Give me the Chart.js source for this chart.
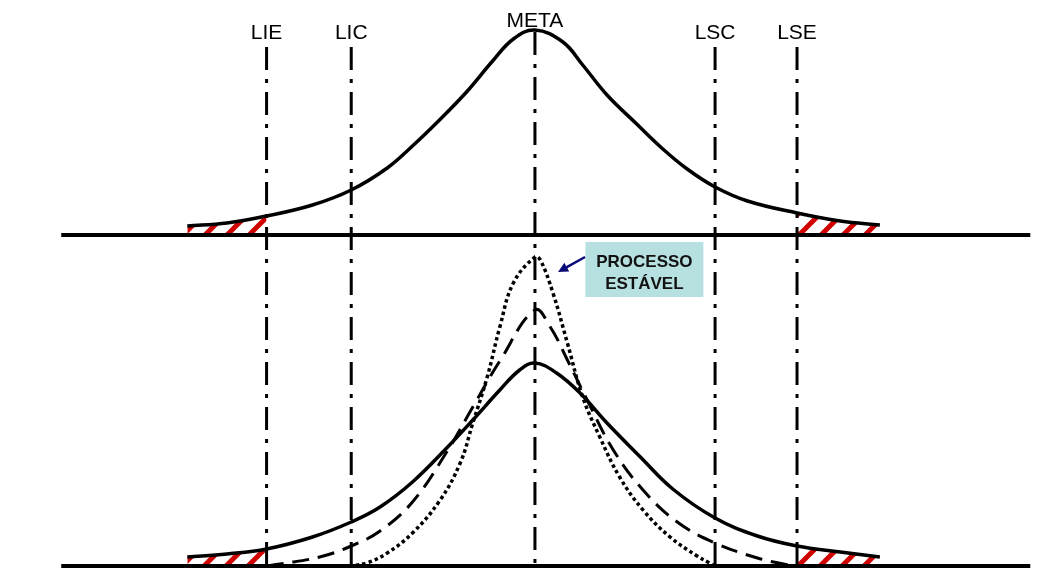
<!DOCTYPE html>
<html lang="pt-BR">
<head>
<meta charset="utf-8">
<title>Limites de controle e especificação</title>
<script src="https://cdn.jsdelivr.net/npm/chart.js@4.4.1/dist/chart.umd.min.js"></script>
<style>
    html, body { margin: 0; padding: 0; background: #fff; }
    #grafico { display: block; }
</style>
</head>
<body>
<canvas id="grafico" width="1051" height="576"></canvas>
<script>

// limites (em desvios a partir da meta)
var limites = ['LIE', 'LIC', 'META', 'LSC', 'LSE'];
var posLimites = [-2.98, -2.04, 0, 2.0, 2.91];

// curva do painel de cima
var xCurvaSup = [-3.86, -3.42, -2.98, -2.47, -2.04, -1.64, -1.36, -1.06, -0.76, -0.47, -0.24, 0, 0.31, 0.53, 0.80, 1.13, 1.42, 1.69, 2.00, 2.36, 2.91, 3.39, 3.83];
var yCurvaSup = [9, 12, 19, 30, 45, 67, 89, 115, 143, 174, 196, 205, 193, 170, 140, 111, 86, 66, 48, 34, 22, 14, 10];

// painel de baixo: curva larga (continua)
var xCurvaLarga = [-3.86, -3.42, -2.98, -2.47, -2.04, -1.72, -1.36, -0.98, -0.69, -0.39, -0.17, 0, 0.24, 0.50, 0.80, 1.17, 1.53, 2.00, 2.47, 2.91, 3.39, 3.83];
var yCurvaLarga = [9, 12, 17, 29, 44, 59, 84, 118, 146, 176, 196, 203, 193, 173, 143, 109, 77, 48, 30, 20, 14, 9];

// curva tracejada
var xCurvaMedia = [-2.98, -2.83, -2.39, -2.04, -1.72, -1.36, -0.98, -0.69, -0.39, 0, 0.17, 0.36, 0.58, 0.87, 1.20, 1.58, 2.00, 2.47, 2.76, 2.91];
var yCurvaMedia = [0, 2, 9, 20, 35, 64, 114, 159, 205, 256, 239, 206, 166, 116, 76, 44, 23, 8, 2, 0];

// curva pontilhada (processo estavel)
var xCurvaEstavel = [-2.06, -1.87, -1.64, -1.36, -1.06, -0.83, -0.69, -0.53, -0.39, -0.24, 0, 0.06, 0.20, 0.36, 0.53, 0.72, 0.94, 1.20, 1.50, 1.80, 1.94, 2.00];
var yCurvaEstavel = [0, 3, 13, 33, 65, 103, 143, 189, 239, 283, 309, 306, 273, 223, 169, 129, 89, 56, 29, 10, 3, 0];

// base de cada painel e extremos das linhas (unidades do eixo y)
var baseSup = 341;
var baseInf = 10;
var topoLinhas = 529;
var topoMeta = 544;
var alturaTextoLimite = 537;
var alturaTextoMeta = 549;
var eixoXMin = -5.94, eixoXMax = 5.73;
var linhaBaseIni = -5.26, linhaBaseFim = 5.5;

function montarPontos(xs, ys, base) {
    var pts = [];
    for (var i = 0; i < xs.length; i++) {
        pts.push({ x: xs[i], y: ys[i] + base });
    }
    return pts;
}

// so a parte da cauda que fica fora dos limites de especificacao
function montarCauda(xs, ys, base, lado) {
    var pts = [];
    for (var i = 0; i < xs.length; i++) {
        if ((lado < 0 && xs[i] <= posLimites[0]) || (lado > 0 && xs[i] >= posLimites[4])) {
            pts.push({ x: xs[i], y: ys[i] + base });
        }
    }
    return pts;
}

function padraoHachura() {
    var c = document.createElement('canvas');
    c.width = 22; c.height = 22;
    var p = c.getContext('2d');
    p.strokeStyle = '#d00000';
    p.lineWidth = 5;
    p.beginPath();
    p.moveTo(-4, 26); p.lineTo(26, -4);
    p.moveTo(-15, 15); p.lineTo(15, -15);
    p.moveTo(7, 37); p.lineTo(37, 7);
    p.stroke();
    return p.createPattern(c, 'repeat');
}

var hachura = padraoHachura();
var datasets = [];

// caudas hachuradas
[[xCurvaSup, yCurvaSup, baseSup], [xCurvaLarga, yCurvaLarga, baseInf]].forEach(function (c) {
    [-1, 1].forEach(function (lado) {
        datasets.push({
            data: montarCauda(c[0], c[1], c[2], lado),
            borderWidth: 0,
            backgroundColor: hachura,
            fill: { value: c[2] },
            pointRadius: 0,
            tension: 0.4,
            order: 10
        });
    });
});

// linhas de base
[baseSup, baseInf].forEach(function (b) {
    datasets.push({
        data: [{ x: linhaBaseIni, y: b }, { x: linhaBaseFim, y: b }],
        borderColor: '#000',
        borderWidth: 4,
        pointRadius: 0,
        order: 2
    });
});

// linhas verticais traco-ponto
for (var i = 0; i < limites.length; i++) {
    datasets.push({
        data: [{ x: posLimites[i], y: limites[i] == 'META' ? topoMeta : topoLinhas }, { x: posLimites[i], y: baseInf }],
        borderColor: '#000',
        borderWidth: 3,
        borderDash: [23, 9, 4, 9],
        pointRadius: 0,
        order: 3
    });
}

// curvas
var curvas = [
    { xs: xCurvaSup, ys: yCurvaSup, base: baseSup, dash: [], largura: 3.5 },
    { xs: xCurvaLarga, ys: yCurvaLarga, base: baseInf, dash: [], largura: 3.5 },
    { xs: xCurvaMedia, ys: yCurvaMedia, base: baseInf, dash: [17, 9], largura: 3 },
    { xs: xCurvaEstavel, ys: yCurvaEstavel, base: baseInf, dash: [3.5, 3], largura: 3.5 }
];
curvas.forEach(function (c) {
    datasets.push({
        data: montarPontos(c.xs, c.ys, c.base),
        borderColor: '#000',
        borderWidth: c.largura,
        borderDash: c.dash,
        pointRadius: 0,
        fill: false,
        tension: 0.4,
        order: 1
    });
});

// caixa "processo estavel" com seta
var caixa = { x1: 0.56, x2: 1.87, yTopo: 334, yBase: 279, cor: '#b7e0e0' };
var seta = { x1: 0.556, y1: 319, x2: 0.256, y2: 304, cor: '#0a0a78' };

var pluginTextos = {
    id: 'textos',
    afterDatasetsDraw: function (chart) {
        var ctx = chart.ctx;
        var sx = chart.scales.x, sy = chart.scales.y;
        ctx.save();
        ctx.fillStyle = '#000';
        ctx.font = '21px "Liberation Sans", Arial, sans-serif';
        ctx.textAlign = 'center';
        ctx.textBaseline = 'alphabetic';
        for (var i = 0; i < limites.length; i++) {
            var yt = limites[i] == 'META' ? alturaTextoMeta : alturaTextoLimite;
            ctx.fillText(limites[i], sx.getPixelForValue(posLimites[i]), sy.getPixelForValue(yt));
        }

        var bx1 = sx.getPixelForValue(caixa.x1), bx2 = sx.getPixelForValue(caixa.x2);
        var by1 = sy.getPixelForValue(caixa.yTopo), by2 = sy.getPixelForValue(caixa.yBase);
        ctx.fillStyle = caixa.cor;
        ctx.fillRect(bx1, by1, bx2 - bx1, by2 - by1);
        ctx.fillStyle = '#111';
        ctx.font = 'bold 17px "Liberation Sans", Arial, sans-serif';
        var cx = (bx1 + bx2) / 2;
        ctx.fillText('PROCESSO', cx, sy.getPixelForValue(309));
        ctx.fillText('ESTÁVEL', cx, sy.getPixelForValue(287));

        var ax1 = sx.getPixelForValue(seta.x1), ay1 = sy.getPixelForValue(seta.y1);
        var ax2 = sx.getPixelForValue(seta.x2), ay2 = sy.getPixelForValue(seta.y2);
        var ang = Math.atan2(ay2 - ay1, ax2 - ax1);
        ctx.strokeStyle = seta.cor;
        ctx.fillStyle = seta.cor;
        ctx.lineWidth = 2.5;
        ctx.beginPath();
        ctx.moveTo(ax1, ay1);
        ctx.lineTo(ax2 - 6 * Math.cos(ang), ay2 - 6 * Math.sin(ang));
        ctx.stroke();
        ctx.beginPath();
        ctx.moveTo(ax2, ay2);
        ctx.lineTo(ax2 - 10 * Math.cos(ang) + 5 * Math.sin(ang), ay2 - 10 * Math.sin(ang) - 5 * Math.cos(ang));
        ctx.lineTo(ax2 - 10 * Math.cos(ang) - 5 * Math.sin(ang), ay2 - 10 * Math.sin(ang) + 5 * Math.cos(ang));
        ctx.closePath();
        ctx.fill();
        ctx.restore();
    }
};

var grafico = new Chart(document.getElementById('grafico').getContext('2d'), {
    type: 'line',
    data: { datasets: datasets },
    options: {
        responsive: false,
        animation: false,
        devicePixelRatio: 1,
        layout: { padding: 0 },
        plugins: {
            legend: { display: false },
            tooltip: { enabled: false }
        },
        scales: {
            x: { type: 'linear', min: eixoXMin, max: eixoXMax, display: false },
            y: { min: 0, max: 576, display: false }
        }
    },
    plugins: [pluginTextos]
});
</script>
</body>
</html>
